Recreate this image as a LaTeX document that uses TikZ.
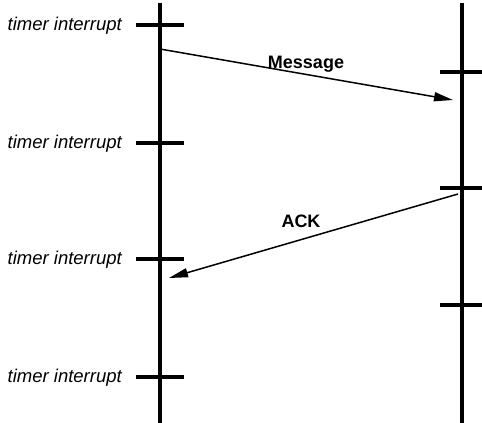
\documentclass[tikz,border=0pt]{standalone}
\usepackage{fontspec}
\setmainfont{Liberation Sans}
\usetikzlibrary{arrows.meta}
\begin{document}
\begin{tikzpicture}[x=1pt,y=-1pt,
  life/.style={line width=3.2pt},
  tick/.style={line width=3.2pt},
  msg/.style={line width=1.5pt,-{Triangle[length=19pt,width=9pt]}},
  tlabel/.style={font=\fontsize{18.5}{21}\selectfont\itshape,inner sep=0pt,anchor=base east},
  mlabel/.style={font=\fontsize{18}{21}\selectfont\bfseries,inner sep=0pt,anchor=base}]
\useasboundingbox (0,0) rectangle (482,423);
% lifelines
\coordinate (Lt) at (160,3); \coordinate (Lb) at (160,423);
\coordinate (Rt) at (462,3); \coordinate (Rb) at (462,423);
\draw[life] (Lt) -- (Lb);
\draw[life] (Rt) -- (Rb);
% left ticks
\foreach \y/\n in {25/1,143/2,259/3,377/4}{
  \coordinate (la\n) at (136,\y); \coordinate (lb\n) at (184,\y);
  \draw[tick] (la\n) -- (lb\n);
  \node[tlabel] (t\n) at (122,\y+5) {timer interrupt};
}
% right ticks
\foreach \y/\n in {72/1,188/2,305/3}{
  \coordinate (ra\n) at (440,\y); \coordinate (rb\n) at (482,\y);
  \draw[tick] (ra\n) -- (rb\n);
}
% messages
\coordinate (m1s) at (160,49); \coordinate (m1e) at (453,100);
\draw[msg] (m1s) -- (m1e);
\node[mlabel] (msglab) at (306,68) {Message};
\coordinate (m2s) at (458,194); \coordinate (m2e) at (169,278);
\draw[msg] (m2s) -- (m2e);
\node[mlabel] (acklab) at (301,227) {ACK};
\end{tikzpicture}
\end{document}
